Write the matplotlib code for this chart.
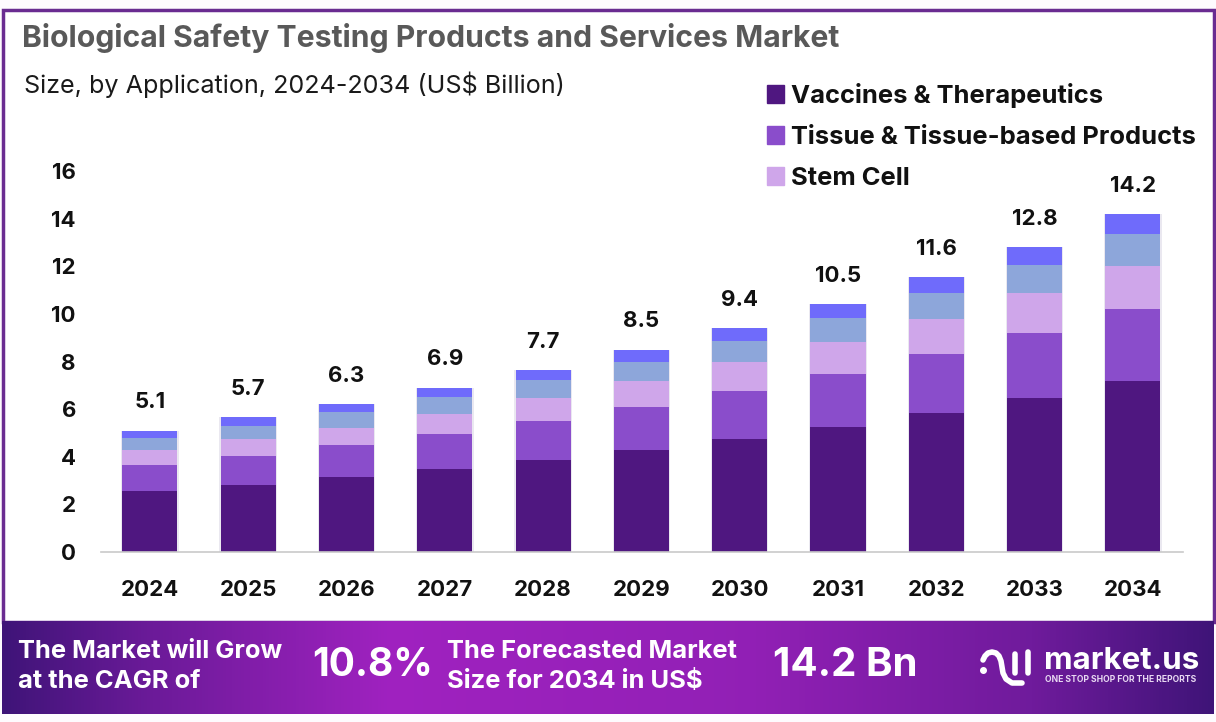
import numpy as np
import matplotlib
matplotlib.use("Agg")
import matplotlib.pyplot as plt
from matplotlib.patches import Rectangle

W, H = 1216, 722

years = ['2024', '2025', '2026', '2027', '2028', '2029', '2030', '2031', '2032', '2033', '2034']
totals = [5.1, 5.7, 6.3, 6.9, 7.7, 8.5, 9.4, 10.5, 11.6, 12.8, 14.2]
vaccines = [2.56, 2.80, 3.15, 3.50, 3.87, 4.30, 4.75, 5.25, 5.85, 6.47, 7.20]
tissue = [1.09, 1.23, 1.35, 1.46, 1.63, 1.80, 2.01, 2.23, 2.47, 2.73, 3.00]
stem = [0.63, 0.72, 0.70, 0.84, 0.97, 1.08, 1.22, 1.34, 1.48, 1.68, 1.80]
other1 = [0.52, 0.55, 0.68, 0.70, 0.76, 0.82, 0.89, 1.01, 1.08, 1.17, 1.36]
other2 = [0.30, 0.35, 0.32, 0.40, 0.42, 0.50, 0.53, 0.57, 0.65, 0.75, 0.84]
series = [vaccines, tissue, stem, other1, other2]
colors = ['#4F1780', '#8A4DCB', '#CFA6EA', '#8DA6DA', '#6F6BFB']
legend_names = ['Vaccines & Therapeutics', 'Tissue & Tissue-based Products', 'Stem Cell']
yticks = [0, 2, 4, 6, 8, 10, 12, 14, 16]

FONT = 'Inter'
plt.rcParams['font.family'] = [FONT, 'DejaVu Sans']

fig = plt.figure(figsize=(W / 100, H / 100), dpi=100, facecolor='#FEFBFE')

#
# page layer, in pixels: frame, banner and header text
#
bg = fig.add_axes([0, 0, 1, 1])
bg.set_xlim(0, W)
bg.set_ylim(H, 0)
bg.axis('off')
bg.add_patch(Rectangle((2.5, 9.5), W - 5, 612, fc='white', ec='#6A2C91', lw=2.5))

stops = np.interp(np.linspace(0, 1, 400), [0, 0.12, 0.32, 0.62, 0.85, 1], [0, 0.45, 1, 0.85, 0.5, 0])
dark = np.array([0x3F, 0x14, 0x78])
bright = np.array([0xA0, 0x22, 0xC0])
grad = (dark + (bright - dark) * stops[:, None]) / 255
bg.imshow(grad[None, :, :], extent=(2, W - 2, 714, 621), aspect='auto', zorder=2)
bg.set_xlim(0, W)
bg.set_ylim(H, 0)

bg.text(22, 38, 'Biological Safety Testing Products and Services Market', fontsize=21.7,
        fontweight='bold', color='#595959', va='center')
bg.text(24, 85, 'Size, by Application, 2024-2034 (US$ Billion)', fontsize=18.1, color='#1A1A1A', va='center')

bg.text(18, 652, 'The Market will Grow', fontsize=18.4, fontweight='bold', color='white', va='center', zorder=3)
bg.text(18, 681, 'at the CAGR of', fontsize=18.4, fontweight='bold', color='white', va='center', zorder=3)
bg.text(312, 665, '10.8%', fontsize=28, fontweight='bold', color='white', va='center', zorder=3)
bg.text(447, 652, 'The Forecasted Market', fontsize=18.4, fontweight='bold', color='white', va='center', zorder=3)
bg.text(447, 681, 'Size for 2034 in US$', fontsize=18.4, fontweight='bold', color='white', va='center', zorder=3)
bg.text(773, 665, '14.2 Bn', fontsize=29, fontweight='bold', color='white', va='center', zorder=3)

# logo glyph, then the wordmark
bg.plot([983, 985, 988, 992, 996, 999, 1001, 1003, 1006, 1012, 1022],
        [660, 656, 653, 652, 653, 656, 661, 673, 679, 683, 683],
        color='white', lw=4, solid_capstyle='round', zorder=3)
bg.plot([983], [670], 'o', color='white', ms=4, zorder=3)
bg.plot([1015, 1015], [654, 673], color='white', lw=4, solid_capstyle='round', zorder=3)
bg.plot([1028, 1028], [652, 673], color='white', lw=4, solid_capstyle='round', zorder=3)
bg.text(1044, 669, 'market.us', fontsize=22.5, fontweight='bold', color='white', va='baseline', zorder=3)
bg.text(1045, 679, 'ONE STOP SHOP FOR THE REPORTS', fontsize=6.2, fontweight='bold', color='#E8D8F2',
        va='center', zorder=3)

#
# chart layer
#
x0, x1 = 101, 1183
y_base, y_top = 552, 171
ax = fig.add_axes([x0 / W, 1 - y_base / H, (x1 - x0) / W, (y_base - y_top) / H])
ax.patch.set_alpha(0)

x = np.arange(len(years))
bottom = np.zeros(len(years))
ax.bar(x, np.sum(series, axis=0), width=0.585, color='#9A90B8', alpha=0.2, zorder=1)
for vals, c in zip(series, colors):
    ax.bar(x, vals, width=0.56, bottom=bottom, color=c, zorder=2)
    bottom = bottom + np.array(vals)

for xi, top, t in zip(x, bottom, totals):
    ax.annotate(str(t), (xi, top), xytext=(0, 16), textcoords='offset points', ha='center',
                fontsize=16, fontweight='bold', color='#111111')

ax.set_xlim(-0.498, 10.51)
ax.set_ylim(0, 16)
ax.set_xticks(x, years)
ax.set_yticks(yticks)
ax.tick_params(length=0)
ax.tick_params(axis='x', pad=20, labelsize=16, labelcolor='#111111')
ax.tick_params(axis='y', pad=18, labelsize=16, labelcolor='#111111')
for lab in ax.get_xticklabels() + ax.get_yticklabels():
    lab.set_fontweight('bold')
for s in ['top', 'left', 'right']:
    ax.spines[s].set_visible(False)
ax.spines['bottom'].set_color('#C9C9C9')
ax.spines['bottom'].set_linewidth(1.2)

handles = [Rectangle((0, 0), 1, 1, color=c) for c in colors[:3]]
fig.legend(handles, legend_names, loc='upper left', bbox_to_anchor=(744 / W, 1 - 60 / H), frameon=False,
           prop={'size': 18.4, 'weight': 'bold'}, labelcolor='#111111', handlelength=0.67, handleheight=0.67,
           handletextpad=0.25, labelspacing=0.7)

fig.savefig('out.png', dpi=100)
